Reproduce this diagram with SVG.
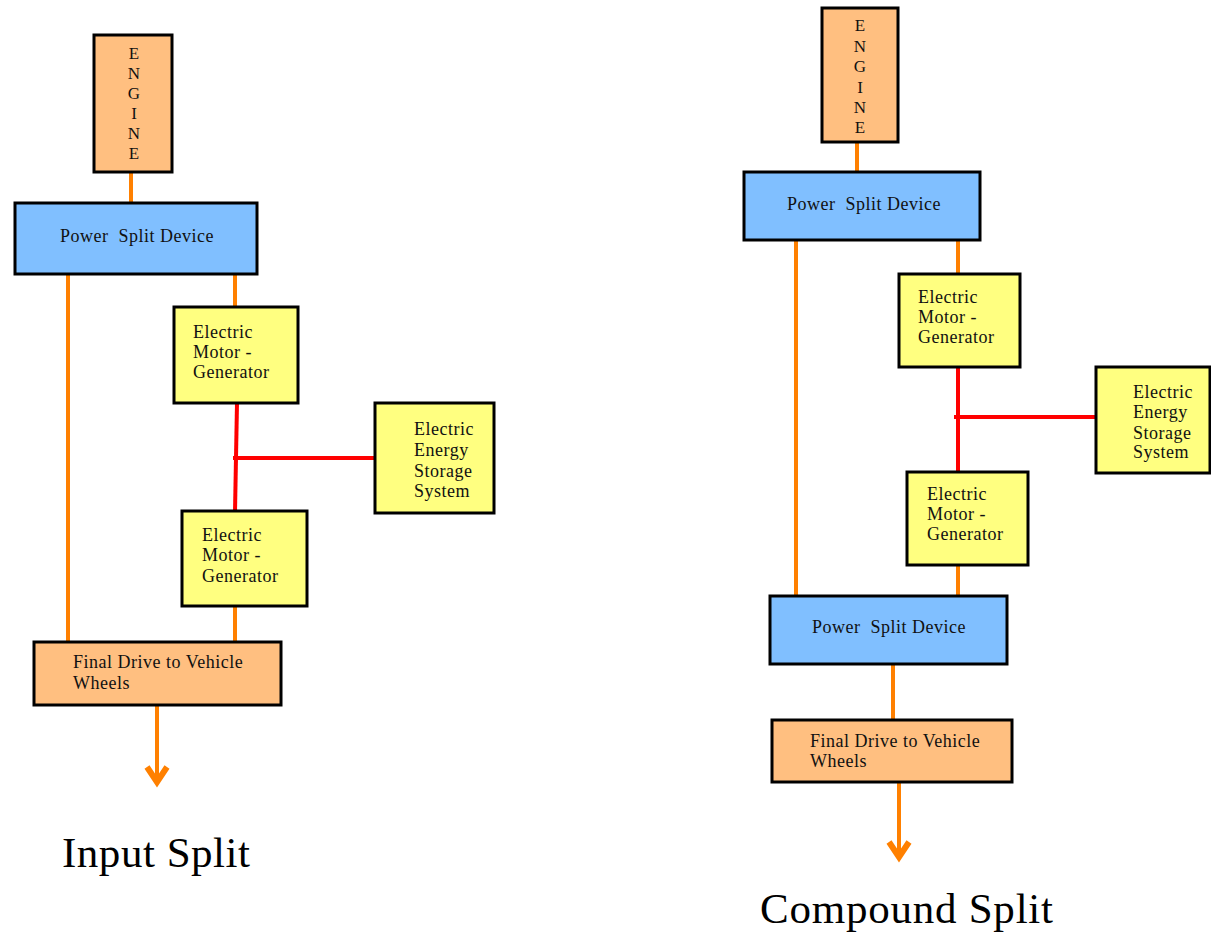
<svg xmlns="http://www.w3.org/2000/svg" width="1211" height="936" viewBox="0 0 1211 936">
  <style>
    .box { stroke: #000; stroke-width: 3; }
    .peach { fill: #FFBF80; }
    .blue { fill: #80BFFF; }
    .yellow { fill: #FFFF80; }
    .lbl { font-family: "Liberation Serif", "Times New Roman", serif; font-size: 18px; letter-spacing: 0.5px; fill: #111; }
    .mid { text-anchor: middle; }
    .eng { font-family: "Liberation Serif", "Times New Roman", serif; font-size: 17px; fill: #111; text-anchor: middle; }
    .title { font-family: "Liberation Serif", "Times New Roman", serif; font-size: 43px; fill: #000; }
    .mech { stroke: #FF8000; stroke-width: 4; fill: none; }
    .elec { stroke: #FF0000; stroke-width: 4; fill: none; }
    .head { stroke: #FF8000; stroke-width: 6; fill: none; stroke-linejoin: miter; stroke-linecap: butt; }
  </style>

  <rect width="1211" height="936" fill="#fff"/>

  <!-- links between components -->
  <g id="connectors">
    <!-- input split -->
    <line class="mech" x1="131" y1="172" x2="131" y2="203"/>
    <line class="mech" x1="68" y1="274" x2="68" y2="642"/>
    <line class="mech" x1="235" y1="274" x2="235" y2="307"/>
    <line class="mech" x1="235" y1="606" x2="235" y2="642"/>
    <line class="elec" x1="237" y1="403" x2="235" y2="512"/>
    <line class="elec" x1="233" y1="458" x2="375" y2="458"/>
    <line class="mech" x1="157" y1="705" x2="157" y2="780"/>
    <polyline class="head" points="147,767 157,782 167,767"/>

    <!-- compound split -->
    <line class="mech" x1="857" y1="142" x2="857" y2="172"/>
    <line class="mech" x1="796" y1="240" x2="796" y2="596"/>
    <line class="mech" x1="958" y1="240" x2="958" y2="274"/>
    <line class="mech" x1="958" y1="565" x2="958" y2="596"/>
    <line class="elec" x1="958" y1="367" x2="958" y2="473"/>
    <line class="elec" x1="954" y1="417" x2="1096" y2="417"/>
    <line class="mech" x1="893" y1="664" x2="893" y2="720"/>
    <line class="mech" x1="899" y1="782" x2="899" y2="855"/>
    <polyline class="head" points="889,842 899,857 909,842"/>
  </g>

  <!-- Input Split -->
  <g id="in-engine">
    <rect class="box peach" x="94" y="35" width="78" height="137"/>
    <text class="eng" x="134" y="59">E</text>
    <text class="eng" x="134" y="79">N</text>
    <text class="eng" x="134" y="99">G</text>
    <text class="eng" x="134" y="119">I</text>
    <text class="eng" x="134" y="139">N</text>
    <text class="eng" x="134" y="159">E</text>
  </g>
  <g id="in-psd">
    <rect class="box blue" x="15" y="203" width="242" height="71"/>
    <text class="lbl mid" x="137" y="242" xml:space="preserve">Power  Split Device</text>
  </g>
  <g id="in-mg1">
    <rect class="box yellow" x="174" y="307" width="124" height="96"/>
    <text class="lbl" x="193" y="338">Electric</text>
    <text class="lbl" x="193" y="358">Motor -</text>
    <text class="lbl" x="193" y="378">Generator</text>
  </g>
  <g id="in-storage">
    <rect class="box yellow" x="375" y="403" width="119" height="110"/>
    <text class="lbl" x="414" y="435">Electric</text>
    <text class="lbl" x="414" y="456">Energy</text>
    <text class="lbl" x="414" y="477">Storage</text>
    <text class="lbl" x="414" y="497">System</text>
  </g>
  <g id="in-mg2">
    <rect class="box yellow" x="182" y="511" width="125" height="95"/>
    <text class="lbl" x="202" y="541">Electric</text>
    <text class="lbl" x="202" y="561">Motor -</text>
    <text class="lbl" x="202" y="582">Generator</text>
  </g>
  <g id="in-final">
    <rect class="box peach" x="34" y="642" width="247" height="63"/>
    <text class="lbl" x="73" y="668">Final Drive to Vehicle</text>
    <text class="lbl" x="73" y="689">Wheels</text>
  </g>
  <text class="title" x="62" y="867" textLength="188">Input Split</text>

  <!-- Compound Split -->
  <g id="cs-engine">
    <rect class="box peach" x="822" y="8" width="76" height="134"/>
    <text class="eng" x="860" y="31">E</text>
    <text class="eng" x="860" y="52">N</text>
    <text class="eng" x="860" y="72">G</text>
    <text class="eng" x="860" y="93">I</text>
    <text class="eng" x="860" y="113">N</text>
    <text class="eng" x="860" y="133">E</text>
  </g>
  <g id="cs-psd1">
    <rect class="box blue" x="744" y="172" width="236" height="68"/>
    <text class="lbl mid" x="864" y="210" xml:space="preserve">Power  Split Device</text>
  </g>
  <g id="cs-mg1">
    <rect class="box yellow" x="899" y="274" width="121" height="93"/>
    <text class="lbl" x="918" y="303">Electric</text>
    <text class="lbl" x="918" y="323">Motor -</text>
    <text class="lbl" x="918" y="343">Generator</text>
  </g>
  <g id="cs-storage">
    <rect class="box yellow" x="1096" y="367" width="114" height="106"/>
    <text class="lbl" x="1133" y="398">Electric</text>
    <text class="lbl" x="1133" y="418">Energy</text>
    <text class="lbl" x="1133" y="439">Storage</text>
    <text class="lbl" x="1133" y="458">System</text>
  </g>
  <g id="cs-mg2">
    <rect class="box yellow" x="907" y="472" width="121" height="93"/>
    <text class="lbl" x="927" y="500">Electric</text>
    <text class="lbl" x="927" y="520">Motor -</text>
    <text class="lbl" x="927" y="540">Generator</text>
  </g>
  <g id="cs-psd2">
    <rect class="box blue" x="770" y="596" width="237" height="68"/>
    <text class="lbl mid" x="889" y="633" xml:space="preserve">Power  Split Device</text>
  </g>
  <g id="cs-final">
    <rect class="box peach" x="772" y="720" width="240" height="62"/>
    <text class="lbl" x="810" y="747">Final Drive to Vehicle</text>
    <text class="lbl" x="810" y="767">Wheels</text>
  </g>
  <text class="title" x="760" y="923" textLength="293">Compound Split</text>
</svg>
